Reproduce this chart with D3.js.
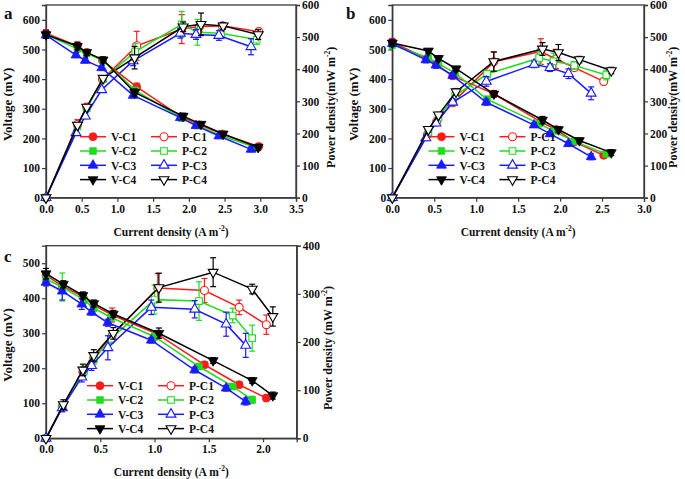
<!DOCTYPE html>
<html><head><meta charset="utf-8">
<script src="https://cdn.jsdelivr.net/npm/d3@7/dist/d3.min.js"></script>
<style>
body{margin:0;background:#fff}
text{font-family:"Liberation Serif","Times New Roman",serif;font-weight:bold;fill:#111}
</style>
</head><body>
<svg id="chart" width="685" height="479"></svg>
<script>
// ---------- shared ----------
const seriesNames = ["C1", "C2", "C3", "C4"];
const seriesColors = ["#ff1a1a", "#1fdc1f", "#1a1aff", "#000000"];

// ---------- panel a ----------
const aCurrent = [
  [0, 0.44, 0.57, 0.79, 1.27, 1.90, 2.15, 2.47, 2.98],
  [0, 0.44, 0.57, 0.80, 1.25, 1.90, 2.12, 2.45, 2.95],
  [0, 0.42, 0.55, 0.78, 1.22, 1.88, 2.10, 2.42, 2.87],
  [0, 0.44, 0.57, 0.80, 1.24, 1.92, 2.17, 2.48, 2.97]
];
const aVoltage = [
  [555, 512, 490, 463, 374, 272, 246, 215, 173],
  [550, 502, 487, 462, 362, 268, 243, 210, 168],
  [548, 481, 463, 438, 345, 270, 243, 208, 163],
  [550, 511, 490, 465, 355, 275, 248, 215, 170]
];
const aVoltErr = [
  [12, 14, 10, 8, 12, 10, 8, 8, 8],
  [10, 10, 8, 8, 10, 10, 8, 8, 8],
  [10, 8, 8, 8, 8, 8, 8, 8, 8],
  [12, 12, 10, 10, 12, 10, 8, 8, 10]
];
const aPower = [
  [0, 228, 282, 368, 473, 525, 533, 535, 517],
  [0, 222, 278, 370, 455, 540, 515, 512, 492],
  [0, 202, 254, 336, 426, 512, 508, 505, 470],
  [0, 226, 282, 372, 436, 532, 540, 535, 508]
];
const aPowerErr = [
  [0, 15, 10, 8, 45, 45, 15, 10, 10],
  [0, 8, 8, 8, 25, 40, 40, 10, 15],
  [0, 8, 8, 8, 15, 15, 15, 15, 25],
  [0, 8, 8, 8, 35, 15, 35, 10, 15]
];
const aXTicks = [0, 0.5, 1.0, 1.5, 2.0, 2.5, 3.0, 3.5];
const aVTicks = [0, 100, 200, 300, 400, 500, 600];
const aPTicks = [0, 100, 200, 300, 400, 500, 600];

// ---------- panel b ----------
const bCurrent = [
  [0, 0.42, 0.53, 0.72, 1.21, 1.77, 1.95, 2.17, 2.52],
  [0, 0.43, 0.55, 0.75, 1.13, 1.75, 1.92, 2.17, 2.55],
  [0, 0.40, 0.52, 0.72, 1.12, 1.69, 1.88, 2.10, 2.37],
  [0, 0.43, 0.55, 0.76, 1.21, 1.79, 1.98, 2.23, 2.61]
];
const bVoltage = [
  [525, 468, 449, 411, 350, 256, 230, 188, 143],
  [515, 472, 452, 420, 332, 250, 225, 190, 148],
  [520, 465, 447, 412, 322, 245, 215, 182, 138],
  [522, 495, 470, 435, 350, 262, 230, 193, 152]
];
const bVoltErr = [
  [12, 10, 10, 10, 10, 10, 8, 8, 8],
  [10, 10, 10, 10, 10, 10, 8, 8, 8],
  [10, 10, 10, 10, 10, 8, 8, 8, 10],
  [10, 8, 8, 8, 10, 12, 10, 8, 10]
];
const bPower = [
  [0, 197, 238, 296, 423, 455, 432, 405, 362],
  [0, 205, 250, 318, 385, 435, 425, 412, 382],
  [0, 186, 232, 297, 362, 415, 405, 386, 325],
  [0, 213, 258, 330, 424, 463, 452, 430, 396]
];
const bPowerErr = [
  [0, 10, 10, 10, 30, 40, 30, 10, 10],
  [0, 8, 8, 10, 12, 20, 25, 12, 15],
  [0, 8, 8, 10, 15, 10, 12, 15, 20],
  [0, 8, 8, 10, 30, 20, 25, 10, 10]
];
const bXTicks = [0, 0.5, 1.0, 1.5, 2.0, 2.5, 3.0];
const bVTicks = [0, 100, 200, 300, 400, 500, 600];
const bPTicks = [0, 100, 200, 300, 400, 500, 600];

// ---------- panel c ----------
const cCurrent = [
  [0, 0.15, 0.34, 0.44, 0.61, 1.03, 1.46, 1.78, 2.03],
  [0, 0.15, 0.35, 0.44, 0.60, 1.00, 1.41, 1.72, 1.90],
  [0, 0.15, 0.33, 0.42, 0.57, 0.97, 1.37, 1.66, 1.84],
  [0, 0.16, 0.34, 0.44, 0.62, 1.04, 1.54, 1.90, 2.09]
];
const cVoltage = [
  [465, 435, 405, 380, 352, 297, 210, 153, 115],
  [455, 432, 395, 372, 345, 290, 205, 148, 110],
  [445, 420, 383, 360, 330, 280, 195, 143, 105],
  [470, 440, 408, 385, 355, 300, 222, 165, 122]
];
const cVoltErr = [
  [10, 10, 10, 8, 20, 10, 8, 8, 8],
  [10, 40, 10, 10, 10, 10, 8, 8, 10],
  [10, 25, 15, 8, 10, 8, 8, 8, 10],
  [15, 10, 10, 10, 10, 15, 8, 8, 10]
];
const cPower = [
  [0, 66, 138, 167, 214, 312, 307, 272, 236],
  [0, 65, 140, 164, 207, 288, 285, 255, 208],
  [0, 63, 127, 151, 188, 272, 268, 237, 193],
  [0, 70, 142, 172, 218, 313, 345, 310, 253]
];
const cPowerErr = [
  [0, 8, 10, 10, 10, 30, 25, 15, 20],
  [0, 8, 10, 10, 10, 30, 40, 15, 27],
  [0, 8, 10, 10, 25, 15, 18, 25, 25],
  [0, 10, 12, 12, 12, 30, 30, 10, 20]
];
const cXTicks = [0, 0.5, 1.0, 1.5, 2.0];
const cVTicks = [0, 100, 200, 300, 400, 500];
const cPTicks = [0, 100, 200, 300, 400];

// ---------- drawing ----------
const svg = d3.select("#chart");
const axisColor = "#3a3a3a";
const fmtX = d3.format(".1f");

function markerPath(k, size) {
  const types = [d3.symbolCircle, d3.symbolSquare, d3.symbolTriangle, d3.symbolTriangle];
  const sizes = [50, 44, 42, 42];
  return d3.symbol().type(types[k]).size(size || sizes[k])();
}

function addTitle(g, x, y, rot, main, sup, tail, fs) {
  const t = g.append("text").attr("text-anchor", "middle").attr("font-size", fs)
    .attr("transform", `translate(${x},${y}) rotate(${rot})`);
  t.append("tspan").text(main);
  t.append("tspan").attr("font-size", 7.5).attr("dy", -5).text(sup);
  t.append("tspan").attr("dy", 5).text(tail);
  return t;
}

function drawPanel(p) {
  const g = svg.append("g");
  const x = d3.scaleLinear().domain([0, p.xMax]).range([p.left, p.right]);
  const yV = d3.scaleLinear().domain([0, p.vMax]).range([p.bottom, p.top]);
  const yP = d3.scaleLinear().domain([0, p.pMax]).range([p.bottom, p.top]);

  // frame
  g.append("rect").attr("x", p.left).attr("y", p.top)
    .attr("width", p.right - p.left).attr("height", p.bottom - p.top)
    .attr("fill", "none").attr("stroke", axisColor).attr("stroke-width", 1.3);

  const bx = d3.axisBottom(x).tickValues(p.xTicks).tickFormat(fmtX).tickSize(4).tickPadding(3);
  const ly = d3.axisLeft(yV).tickValues(p.vTicks).tickFormat(d3.format("d")).tickSize(4).tickPadding(2);
  const ry = d3.axisRight(yP).tickValues(p.pTicks).tickFormat(d3.format("d")).tickSize(4).tickPadding(2);
  const styleAxis = sel => {
    sel.select(".domain").attr("stroke", axisColor).attr("stroke-width", 1.3);
    sel.selectAll(".tick line").attr("stroke", axisColor).attr("stroke-width", 1.2);
    sel.selectAll("text").attr("font-size", 11.5).attr("font-family", "Liberation Serif").attr("font-weight", "bold").attr("fill", "#111");
  };
  g.append("g").attr("transform", `translate(0,${p.bottom})`).call(bx).call(styleAxis);
  g.append("g").attr("transform", `translate(${p.left},0)`).call(ly).call(styleAxis);
  g.append("g").attr("transform", `translate(${p.right},0)`).call(ry).call(styleAxis);

  // titles
  addTitle(g, (p.left + p.right) / 2, p.bottom + 38, 0, "Current density (A m", "-2", ")", 11.5);
  g.append("text").attr("text-anchor", "middle").attr("font-size", 13)
    .attr("transform", `translate(${p.left - 34},${(p.top + p.bottom) / 2 + 3}) rotate(-90)`)
    .text("Voltage (mV)");
  addTitle(g, p.right + p.rtOffset, (p.top + p.bottom) / 2 + 6, -90, p.rightTitle, "-2", ")", 12);
  g.append("text").attr("x", p.labelX).attr("y", p.labelY).attr("font-size", 17).text(p.label);

  const line = sc => d3.line().x(d => x(d[0])).y(d => sc(d[1]));

  function drawSeries(k, vals, errs, sc, open) {
    const pts = p.current[k].map((c, i) => [c, vals[i], errs[i]]);
    const col = seriesColors[k];
    g.append("path").datum(pts).attr("d", line(sc)).attr("fill", "none")
      .attr("stroke", col).attr("stroke-width", 1.5);
    const eb = g.append("g").attr("stroke", col).attr("stroke-width", 1.2);
    pts.filter(d => d[2] > 0).forEach(d => {
      const cx = x(d[0]), y1 = sc(d[1] - d[2]), y2 = sc(d[1] + d[2]);
      eb.append("line").attr("x1", cx).attr("x2", cx).attr("y1", y1).attr("y2", y2);
      eb.append("line").attr("x1", cx - 3).attr("x2", cx + 3).attr("y1", y1).attr("y2", y1);
      eb.append("line").attr("x1", cx - 3).attr("x2", cx + 3).attr("y1", y2).attr("y2", y2);
    });
    g.selectAll(null).data(pts).enter().append("path")
      .attr("d", markerPath(k))
      .attr("transform", d => `translate(${x(d[0])},${sc(d[1])})${k === 3 ? " rotate(180)" : ""}`)
      .attr("fill", open ? "#fff" : col).attr("stroke", col).attr("stroke-width", open ? 1.1 : 0.8);
  }
  for (let k = 0; k < 4; k++) drawSeries(k, p.power[k], p.powerErr[k], yP, true);
  for (let k = 0; k < 4; k++) drawSeries(k, p.voltage[k], p.voltErr[k], yV, false);

  // legend
  const lg = g.append("g");
  seriesNames.forEach((n, k) => {
    const yy = p.legY + k * 14.3;
    [[p.legX, "V-", false], [p.legX + 71, "P-", true]].forEach(([lx, pre, open]) => {
      const col = seriesColors[k];
      lg.append("line").attr("x1", lx).attr("x2", lx + 26).attr("y1", yy).attr("y2", yy)
        .attr("stroke", col).attr("stroke-width", 1.5);
      lg.append("path").attr("d", markerPath(k))
        .attr("transform", `translate(${lx + 13},${yy})${k === 3 ? " rotate(180)" : ""}`)
        .attr("fill", open ? "#fff" : col).attr("stroke", col).attr("stroke-width", open ? 1.1 : 0.8);
      lg.append("text").attr("x", lx + 31).attr("y", yy + 4.2).attr("font-size", 11.5).text(pre + n);
    });
  });
}

drawPanel({
  label: "a", labelX: 4, labelY: 19,
  left: 46, right: 296, top: 5, bottom: 197.7,
  xMax: 3.5, vMax: 650, pMax: 600,
  xTicks: aXTicks, vTicks: aVTicks, pTicks: aPTicks,
  current: aCurrent, voltage: aVoltage, voltErr: aVoltErr, power: aPower, powerErr: aPowerErr,
  rightTitle: "Power density(mW m", rtOffset: 39,
  legX: 80, legY: 136.7
});
drawPanel({
  label: "b", labelX: 346, labelY: 19,
  left: 392.3, right: 644, top: 5, bottom: 197.7,
  xMax: 3.0, vMax: 650, pMax: 600,
  xTicks: bXTicks, vTicks: bVTicks, pTicks: bPTicks,
  current: bCurrent, voltage: bVoltage, voltErr: bVoltErr, power: bPower, powerErr: bPowerErr,
  rightTitle: "Power density(mW m", rtOffset: 33,
  legX: 428.5, legY: 136.7
});
drawPanel({
  label: "c", labelX: 4, labelY: 262,
  left: 46, right: 296.7, top: 245.7, bottom: 438.3,
  xMax: 2.31, vMax: 550, pMax: 400,
  xTicks: cXTicks, vTicks: cVTicks, pTicks: cPTicks,
  current: cCurrent, voltage: cVoltage, voltErr: cVoltErr, power: cPower, powerErr: cPowerErr,
  rightTitle: "Power density (mW m", rtOffset: 35,
  legX: 87, legY: 385.7
});
</script>
</body></html>
